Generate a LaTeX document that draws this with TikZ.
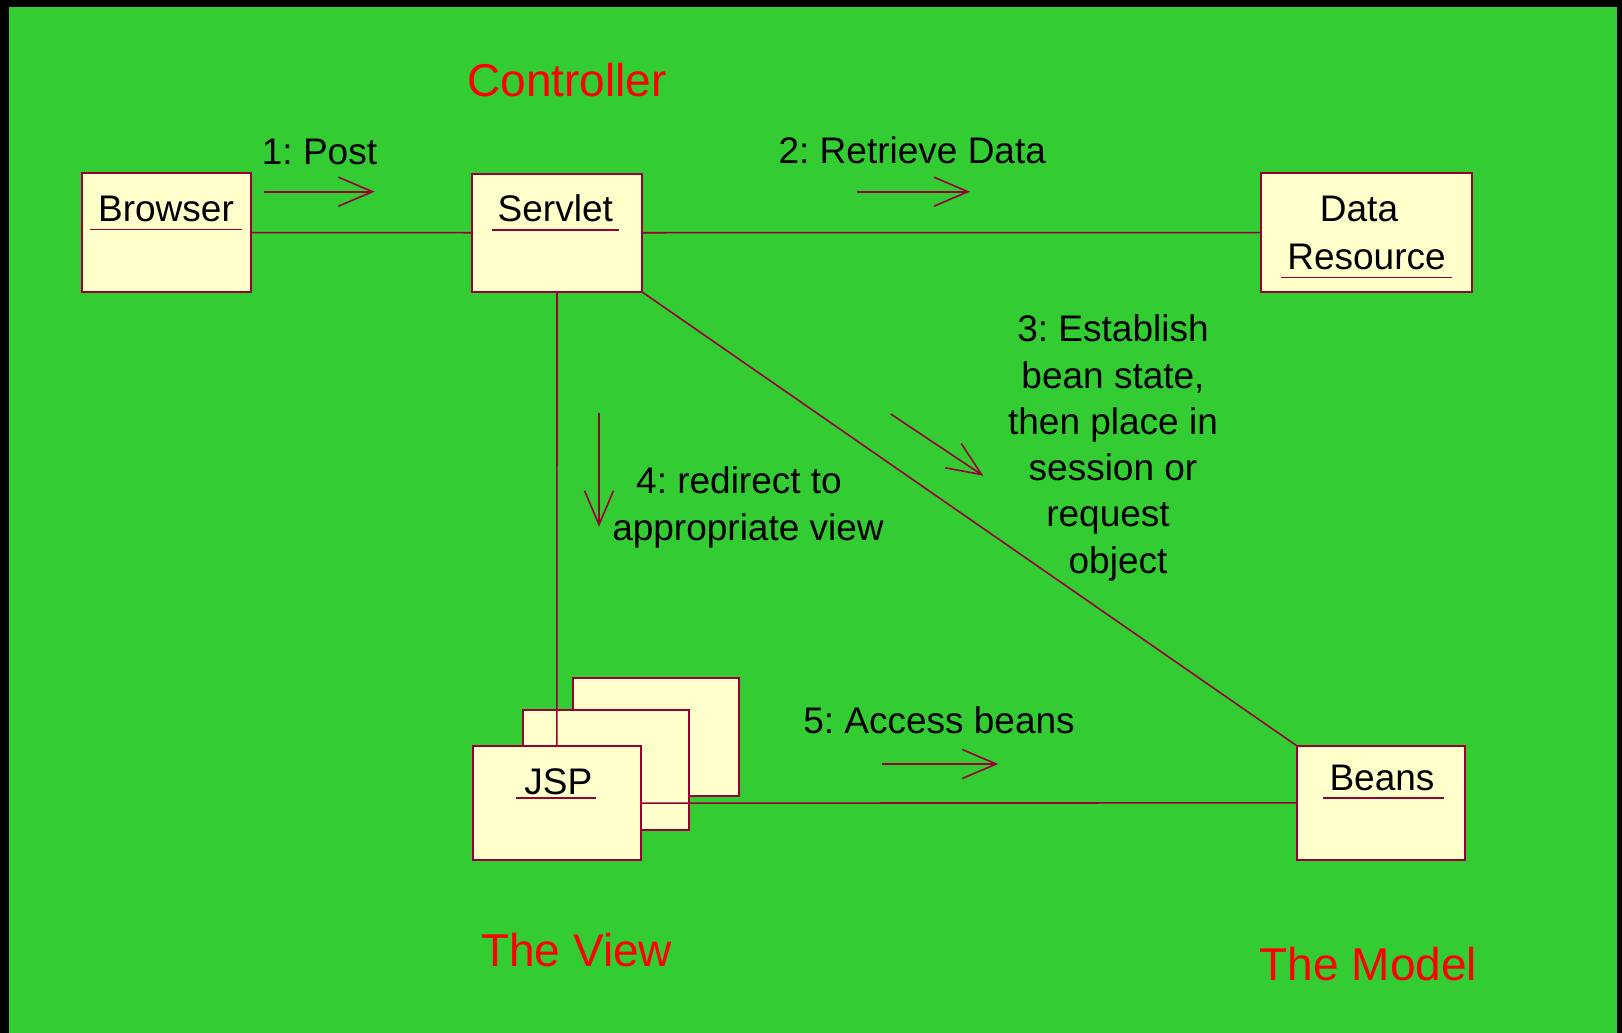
\documentclass[tikz,border=0pt]{standalone}
\usepackage{fontspec}
\setmainfont{Liberation Sans}
\usetikzlibrary{arrows.meta}
\definecolor{bggreen}{RGB}{51,204,51}
\definecolor{boxfill}{RGB}{255,255,204}
\definecolor{umlred}{RGB}{153,0,51}
\frenchspacing
\begin{document}
\begin{tikzpicture}[x=1pt,y=-1pt,
  box/.style={draw=umlred, fill=boxfill, line width=1.8pt, inner sep=0pt, outer sep=0pt},
  lbl/.style={font=\frenchspacing\fontsize{37}{46.5}\selectfont, text=black, inner sep=0pt, anchor=base},
  ttl/.style={font=\fontsize{46}{55}\selectfont, text=red, inner sep=0pt, anchor=base},
  conn/.style={draw=umlred, line width=1.6pt},
  msg/.style={draw=umlred, line width=1.6pt, -{Straight Barb[length=34pt,width=29pt]}},
  uline/.style={draw=umlred, line width=1.6pt}]
% background
\fill[black] (0,0) rectangle (1622,1033);
\fill[bggreen] (9,7) rectangle (1617,1033);
\useasboundingbox (0,0) rectangle (1622,1033);

% boxes
\node[box, minimum width=168.4pt, minimum height=118.7pt] (br) at (166.5,232.65) {};
\node[box, minimum width=169.4pt, minimum height=118pt] (sv) at (557,232.7) {};
\node[box, minimum width=211pt, minimum height=118.7pt] (dr) at (1366.2,232.65) {};
\node[box, minimum width=165.7pt, minimum height=118pt] (jspb) at (655.85,737) {};
\node[box, minimum width=166.3pt, minimum height=120pt] (jspm) at (605.85,770) {};
\node[box, minimum width=168.3pt, minimum height=113.7pt] (jsp) at (556.85,803.15) {};
\node[box, minimum width=168.3pt, minimum height=114.3pt] (bn) at (1380.85,802.85) {};

% connectors
\draw[conn] (br.east) -- (sv.west);
\draw[conn] (sv.east) -- (dr.west);
\draw[conn] (sv.south) -- (jsp.north);
\draw[conn] (sv.south east) -- (bn.north west);
\draw[conn] (jsp.east) -- (bn.west);

% names and underlines
\node[lbl] (brt) at (166,221.7) {Browser};
\draw[uline] (90,229.3) -- (241.7,229.3);
\node[lbl] (svt) at (555.3,221.7) {Servlet};
\draw[uline] (492.3,229.7) -- (619.3,229.7);
\node[lbl, font=\frenchspacing\fontsize{37}{47.6}\selectfont] (drt) at (1366.5,221.7)
  {\begin{tabular}[t]{@{}c@{}}Data\hspace*{15pt}\\Resource\end{tabular}};
\draw[uline] (1280.7,277.3) -- (1451.7,277.3);
\node[lbl] (jspt) at (558.3,794.3) {JSP};
\draw[uline] (516,797.7) -- (595.7,797.7);
\node[lbl] (bnt) at (1382,790) {Beans};
\draw[uline] (1322.7,797.7) -- (1444,797.7);

% messages
\coordinate (a1s) at (264,191.7);   \coordinate (a1e) at (374.5,191.7);
\coordinate (a2s) at (856.7,191.7); \coordinate (a2e) at (970,191.7);
\coordinate (a3s) at (890.7,414);   \coordinate (a3e) at (983.3,475.7);
\coordinate (a4s) at (599,413.3);   \coordinate (a4e) at (599,526.7);
\coordinate (a5s) at (882.3,764);   \coordinate (a5e) at (998.3,764);
\draw[msg] (a1s) -- (a1e);
\draw[msg] (a2s) -- (a2e);
\draw[msg] (a3s) -- (a3e);
\draw[msg] (a4s) -- (a4e);
\draw[msg] (a5s) -- (a5e);

\node[lbl] (m1) at (319.5,164.3) {1: Post};
\node[lbl] (m2) at (912.3,163.3) {2: Retrieve Data};
\node[lbl, font=\frenchspacing\fontsize{37}{46.3}\selectfont] (m3) at (1113,341.7)
  {\begin{tabular}[t]{@{}c@{}}3: Establish\\bean state,\\then place in\\session or\\request\hspace*{10pt}\\\hspace*{10pt}object\end{tabular}};
\node[lbl, font=\frenchspacing\fontsize{37}{46.7}\selectfont] (m4) at (748,493.3)
  {\begin{tabular}[t]{@{}c@{}}4: redirect to\hspace*{18pt}\\appropriate view\end{tabular}};
\node[lbl] (m5) at (939,733.3) {5: Access beans};

% titles
\node[ttl] (tc) at (567.2,96) {Controller};
\node[ttl] (tv) at (576.7,966) {The View};
\node[ttl] (tm) at (1368.5,980) {The Model};
\end{tikzpicture}
\end{document}
